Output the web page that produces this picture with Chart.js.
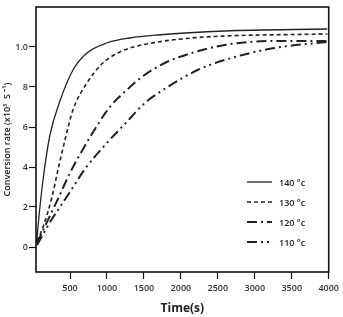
<!DOCTYPE html>
<html>
<head>
<meta charset="utf-8">
<script src="https://cdn.jsdelivr.net/npm/chart.js@4.4.1/dist/chart.umd.min.js"></script>
<style>
  html, body { margin:0; padding:0; background:#fff; }
  #wrap { width:343px; height:317px; }
</style>
</head>
<body>
<div id="wrap"><canvas id="c" width="343" height="317"></canvas></div>
<script>
// series values (time in s, rate in units of the y axis)
const labels = ['140 °c', '130 °c', '120 °c', '110 °c'];
const time140 = [50, 67, 135, 229, 364, 540, 729, 998, 1309, 1687, 2592, 3980];
const rate140 = [0.02, 0.10, 0.335, 0.56, 0.73, 0.885, 0.97, 1.02, 1.045, 1.06, 1.08, 1.09];
const time130 = [54, 135, 256, 337, 432, 540, 729, 944, 1174, 1309, 1687, 2146, 2592, 3980];
const rate130 = [0.03, 0.10, 0.25, 0.385, 0.535, 0.685, 0.82, 0.92, 0.975, 0.995, 1.025, 1.045, 1.055, 1.065];
const time120 = [54, 202, 324, 499, 607, 796, 1039, 1269, 1471, 1781, 2146, 2592, 3266, 3980];
const rate120 = [0.02, 0.135, 0.23, 0.37, 0.445, 0.565, 0.70, 0.785, 0.85, 0.92, 0.97, 1.01, 1.03, 1.03];
const time110 = [54, 256, 364, 526, 702, 998, 1242, 1512, 1822, 2227, 2592, 3266, 3980];
const rate110 = [0.01, 0.14, 0.20, 0.29, 0.39, 0.52, 0.615, 0.72, 0.80, 0.885, 0.935, 0.995, 1.025];
const xTicks = [500, 1000, 1500, 2000, 2500, 3000, 3500, 4000];
const yTicks = [0, 0.2, 0.4, 0.6, 0.8, 1.0];
const yTickLabels = ['0', '2', '4', '6', '8', '1.0'];

const toPts = (xs, ys) => xs.map((x, i) => ({ x, y: ys[i] }));
const ink = '#222';

const series = [
  { t: time140, r: rate140, dash: [], w: 1.3 },
  { t: time130, r: rate130, dash: [4, 3], w: 1.6 },
  { t: time120, r: rate120, dash: [10, 4, 2, 4], w: 2 },
  { t: time110, r: rate110, dash: [10, 4, 2, 4, 2, 4], w: 2 },
];

// box around the plot
const frame = {
  id: 'frame',
  afterDraw(chart) {
    const { ctx, chartArea: a } = chart;
    ctx.save();
    ctx.strokeStyle = '#111';
    ctx.lineWidth = 1.6;
    ctx.strokeRect(a.left, a.top, a.right - a.left, a.bottom - a.top);
    ctx.restore();
  }
};

// legend inside the plot, lower right
const innerLegend = {
  id: 'innerLegend',
  afterDraw(chart) {
    const { ctx } = chart;
    ctx.save();
    chart.data.datasets.forEach((ds, i) => {
      const y = 182 + i * 20;
      ctx.strokeStyle = ink;
      ctx.lineWidth = ds.borderWidth;
      ctx.setLineDash(ds.borderDash);
      ctx.beginPath();
      ctx.moveTo(247, y);
      ctx.lineTo(272, y);
      ctx.stroke();
      ctx.setLineDash([]);
      ctx.fillStyle = '#222';
      ctx.font = '600 9px "Open Sans"';
      ctx.textBaseline = 'middle';
      ctx.fillText(ds.label, 279, y + 1);
    });
    ctx.restore();
  }
};

new Chart(document.getElementById('c'), {
  type: 'line',
  data: {
    datasets: series.map((s, i) => ({
      label: labels[i],
      data: toPts(s.t, s.r),
      borderColor: ink,
      borderWidth: s.w,
      borderDash: s.dash,
      pointRadius: 0,
      fill: false,
      cubicInterpolationMode: 'monotone',
    }))
  },
  options: {
    responsive: false,
    animation: false,
    layout: { padding: { top: 7, right: 14, left: 0, bottom: 0 } },
    plugins: { legend: { display: false }, tooltip: { enabled: false } },
    scales: {
      x: {
        type: 'linear',
        min: 40, max: 4000,
        afterBuildTicks: s => { s.ticks = xTicks.map(v => ({ value: v })); },
        afterFit: s => { s.height = 45; },
        ticks: {
          color: '#333', font: { family: 'Open Sans', size: 9, weight: '600' }, padding: 4, maxRotation: 0, autoSkip: false,
          callback: v => String(v)
        },
        grid: { drawOnChartArea: false, drawTicks: true, tickLength: 7, tickColor: '#111', tickWidth: 1.2 },
        border: { display: false },
        title: { display: true, text: 'Time(s)', color: '#222', font: { family: 'Open Sans', size: 12, weight: 'bold' }, padding: { top: 0, bottom: 1 } }
      },
      y: {
        type: 'linear',
        min: -0.125, max: 1.2,
        afterBuildTicks: s => { s.ticks = yTicks.map(v => ({ value: v })); },
        afterFit: s => { s.width = 36; },
        ticks: {
          color: '#333', font: { family: 'Open Sans', size: 9, weight: '600' }, padding: 1, autoSkip: false,
          callback: v => yTickLabels[yTicks.findIndex(t => Math.abs(t - v) < 1e-6)]
        },
        grid: { drawOnChartArea: false, drawTicks: true, tickLength: 7, tickColor: '#111', tickWidth: 1.2 },
        border: { display: false },
        title: { display: true, text: 'Conversion rate (x10³  S ⁻¹)', color: '#222', font: { family: 'Open Sans', size: 9, weight: '600' }, padding: { top: 2, bottom: 0 } }
      }
    }
  },
  plugins: [frame, innerLegend]
});
</script>
</body>
</html>
